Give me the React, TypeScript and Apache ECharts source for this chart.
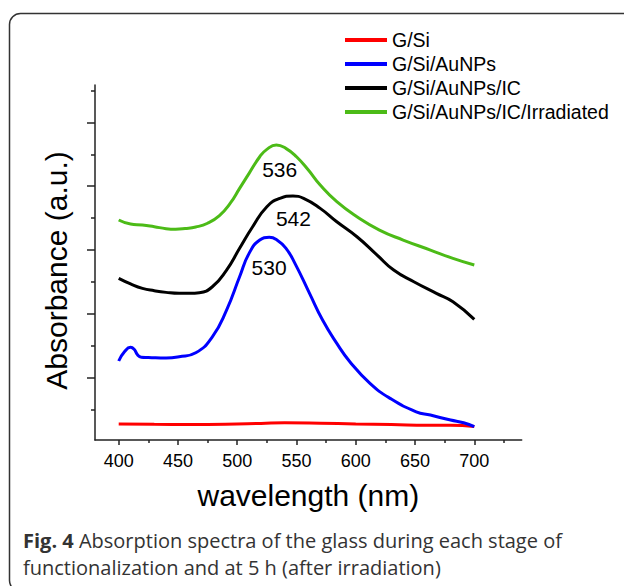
import React, { useEffect, useRef } from "react";
import * as echarts from "echarts";

const seriesNames = ["G/Si", "G/Si/AuNPs", "G/Si/AuNPs/IC", "G/Si/AuNPs/IC/Irradiated"];
const seriesColors = ["#ff0000", "#0000ff", "#000000", "#4cbb17"];

const redX = [400, 430, 460, 490, 520, 540, 570, 600, 630, 660, 680, 700];
const redY = [0.275, 0.27, 0.268, 0.272, 0.285, 0.295, 0.288, 0.275, 0.268, 0.255, 0.255, 0.235];

const blueX = [400, 405, 410, 413, 416, 419, 425, 440, 451, 465, 479, 491, 502, 510, 519, 527, 533, 541, 549, 561, 572, 584, 595, 612, 629, 651, 663, 680, 691, 700];
const blueY = [1.262, 1.41, 1.476, 1.445, 1.356, 1.322, 1.318, 1.309, 1.329, 1.392, 1.642, 2.06, 2.582, 2.948, 3.157, 3.199, 3.165, 3.03, 2.78, 2.322, 1.904, 1.539, 1.251, 0.912, 0.677, 0.467, 0.416, 0.337, 0.295, 0.233];

const blackX = [400, 410, 420, 430, 440, 451, 460, 468, 479, 491, 502, 513, 525, 536, 547, 556, 570, 584, 601, 618, 632, 649, 668, 682, 700];
const blackY = [2.557, 2.47, 2.4, 2.363, 2.337, 2.322, 2.322, 2.331, 2.425, 2.687, 3.027, 3.365, 3.678, 3.81, 3.846, 3.81, 3.653, 3.443, 3.208, 2.922, 2.687, 2.504, 2.322, 2.19, 1.915];

const greenX = [400, 410, 420, 430, 440, 448, 456, 465, 475, 485, 494, 502, 510, 519, 525, 533, 541, 550, 560, 570, 584, 601, 620, 640, 663, 682, 700];
const greenY = [3.47, 3.407, 3.392, 3.365, 3.335, 3.327, 3.337, 3.36, 3.42, 3.54, 3.73, 3.966, 4.201, 4.461, 4.577, 4.645, 4.593, 4.461, 4.253, 4.018, 3.757, 3.522, 3.313, 3.157, 3.0, 2.87, 2.765];

const xMajorTicks = [400, 450, 500, 550, 600, 650, 700];
const xMinorTicks = [425, 475, 525, 575, 625, 675, 725];
const yMajorTicks = [1, 2, 3, 4, 5];
const yMinorTicks = [0.5, 1.5, 2.5, 3.5, 4.5, 5.5];

const peakLabels = ["536", "542", "530"];
const peakCoords = [[535.8, 4.264], [547.4, 3.49], [526.9, 2.734]];
const peakSeries = [3, 2, 1];

const FONT = "'Liberation Sans'";
const CAPFONT = "'Open Sans'";

function zip(xs: number[], ys: number[]) {
  return xs.map((x, i) => [x, ys[i]]);
}

export default function App() {
  const ref = useRef<HTMLDivElement>(null);
  useEffect(() => {
    if (!ref.current) return;
    const chart = echarts.init(ref.current, null, { renderer: "svg" });
    const datas = [zip(redX, redY), zip(blueX, blueY), zip(blackX, blackY), zip(greenX, greenY)];
    const axisLineStyle = { color: "#222", width: 1.5 };
    const series: any[] = seriesNames.map((name, i) => {
      const s: any = {
        name,
        type: "line",
        data: datas[i],
        showSymbol: false,
        smooth: 0.5,
        color: seriesColors[i],
        lineStyle: { width: 3, color: seriesColors[i] },
        z: 2 + i,
      };
      const pk = peakSeries.indexOf(i);
      if (pk >= 0) {
        s.markPoint = {
          symbol: "circle",
          symbolSize: 1,
          itemStyle: { color: "rgba(0,0,0,0)" },
          label: {
            show: true,
            position: "inside",
            formatter: peakLabels[pk],
            fontSize: 21,
            fontFamily: FONT,
            color: "#000",
          },
          data: [{ coord: peakCoords[pk] }],
        };
      }
      return s;
    });
    chart.setOption({
      animation: false,
      backgroundColor: "#fff",
      textStyle: { fontFamily: FONT },
      grid: { left: 95, top: 85, right: 102.3, bottom: 146, containLabel: false },
      legend: {
        orient: "vertical",
        left: 345,
        top: 30,
        padding: 0,
        itemWidth: 42,
        itemHeight: 4,
        itemGap: 4,
        icon: "rect",
        data: seriesNames,
        textStyle: { fontSize: 19.5, fontFamily: FONT, color: "#000" },
      },
      xAxis: [
        {
          type: "value",
          min: 380,
          max: 740,
          position: "bottom",
          name: "wavelength (nm)",
          nameLocation: "middle",
          nameGap: 40,
          nameTextStyle: { fontSize: 30, fontFamily: FONT, color: "#000" },
          axisLine: { show: true, lineStyle: axisLineStyle },
          axisTick: { show: true, length: 5, customValues: xMajorTicks, lineStyle: axisLineStyle },
          axisLabel: { show: true, customValues: xMajorTicks, margin: 12, fontSize: 18, fontFamily: FONT, color: "#000" },
          splitLine: { show: false },
        },
        {
          type: "value",
          min: 380,
          max: 740,
          position: "bottom",
          gridIndex: 0,
          axisLine: { show: false },
          axisTick: { show: true, length: 3, customValues: xMinorTicks, lineStyle: axisLineStyle },
          axisLabel: { show: false },
          splitLine: { show: false },
        },
      ],
      yAxis: [
        {
          type: "value",
          min: 0.025,
          max: 5.585,
          position: "left",
          axisLine: { show: true, lineStyle: axisLineStyle },
          axisTick: { show: true, length: 8, customValues: yMajorTicks, lineStyle: axisLineStyle },
          axisLabel: { show: false, customValues: yMajorTicks },
          splitLine: { show: false },
        },
        {
          type: "value",
          min: 0.025,
          max: 5.585,
          position: "left",
          axisLine: { show: false },
          axisTick: { show: true, length: 4, customValues: yMinorTicks, lineStyle: axisLineStyle },
          axisLabel: { show: false, customValues: yMinorTicks },
          splitLine: { show: false },
        },
      ],
      series,
      graphic: [
        {
          type: "rect",
          shape: { x: 9.5, y: 13.5, width: 660, height: 578, r: 11 },
          style: { fill: "none", stroke: "#333", lineWidth: 1.5 },
          silent: true,
        },
        {
          type: "text",
          x: 56,
          y: 270.5,
          rotation: Math.PI / 2,
          style: {
            text: "Absorbance (a.u.)",
            fontSize: 30,
            fontFamily: FONT,
            fill: "#000",
            textAlign: "center",
            textVerticalAlign: "middle",
          },
        },
        {
          type: "text",
          x: 23,
          y: 540,
          style: {
            text: "{b|Fig. 4} Absorption spectra of the glass during each stage of",
            fontSize: 20,
            fontFamily: CAPFONT,
            fill: "#333",
            textVerticalAlign: "middle",
            rich: {
              b: { fontSize: 20, fontFamily: CAPFONT, fontWeight: "bold", fill: "#333" },
            },
          },
        },
        {
          type: "text",
          x: 23,
          y: 567,
          style: {
            text: "functionalization and at 5 h (after irradiation)",
            fontSize: 20,
            fontFamily: CAPFONT,
            fill: "#333",
            textVerticalAlign: "middle",
          },
        },
      ],
    });
    return () => chart.dispose();
  }, []);
  return <div ref={ref} style={{ position: "fixed", left: 0, top: 0, width: 624, height: 586 }} />;
}
